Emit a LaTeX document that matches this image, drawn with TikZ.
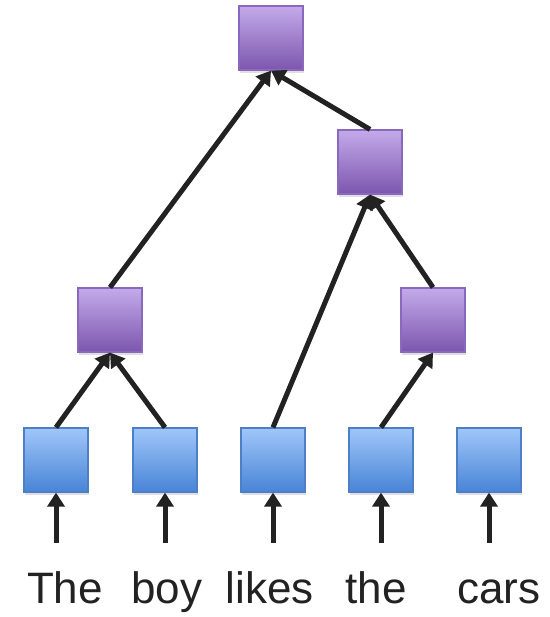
\documentclass[tikz,border=0pt]{standalone}
\usepackage{fontspec}
\setmainfont{Liberation Sans}
\usetikzlibrary{arrows.meta,shadows}
\definecolor{leafhi}{HTML}{A0C6FA}
\definecolor{leaflo}{HTML}{4884D6}
\definecolor{leafrim}{HTML}{4C7FC6}
\definecolor{innerhi}{HTML}{C4AAEA}
\definecolor{innerlo}{HTML}{7C56AE}
\definecolor{innerrim}{HTML}{8A68BE}
\definecolor{ink}{HTML}{222222}
\tikzset{>={Triangle[width=17pt,length=14pt]},
  cell/.style={minimum size=64pt,inner sep=0pt,line width=1.2pt,
    drop shadow={opacity=0.25,shadow xshift=1pt,shadow yshift=-3pt}},
  leaf/.style={cell,draw=leafrim,top color=leafhi,bottom color=leaflo},
  inner/.style={cell,draw=innerrim,top color=innerhi,bottom color=innerlo},
  link/.style={->,draw=ink,line width=5pt},
  word/.style={anchor=base,text=ink,inner sep=0pt,font=\fontsize{44}{52}\selectfont}}

\begin{document}
\begin{tikzpicture}[x=1pt,y=-1pt]
\useasboundingbox (0,0) rectangle (549,617);
% tree nodes
\node[inner] (root) at (271,38) {};
\node[inner] (upper) at (370,162) {};
\node[inner] (midL) at (110,320) {};
\node[inner] (midR) at (433,320) {};
% token nodes
\node[leaf] (t1) at (56,460) {};
\node[leaf] (t2) at (165,460) {};
\node[leaf] (t3) at (273,460) {};
\node[leaf] (t4) at (381,460) {};
\node[leaf] (t5) at (489,460) {};
% inputs
\coordinate (in1) at (56,543);
\coordinate (in2) at (165,543);
\coordinate (in3) at (273,543);
\coordinate (in4) at (381,543);
\coordinate (in5) at (489,543);
\node[word] (w1) at (65,603) {The};
\node[word] (w2) at (167,603) {boy};
\node[word] (w3) at (270,603) {likes};
\node[word] (w4) at (376,603) {the};
\node[word] (w5) at (499,603) {cars};
\path (in1) edge[link] (t1.south);
\path (in2) edge[link] (t2.south);
\path (in3) edge[link] (t3.south);
\path (in4) edge[link] (t4.south);
\path (in5) edge[link] (t5.south);
\path (t1.north) edge[link] (midL.south);
\path (t2.north) edge[link] (midL.south);
\path (t3.north) edge[link] (upper.south);
\path (t4.north) edge[link] (midR.south);
\path (midR.north) edge[link] (upper.south);
\path (midL.north) edge[link] (root.south);
\path (upper.north) edge[link] (root.south);
\end{tikzpicture}
\end{document}
